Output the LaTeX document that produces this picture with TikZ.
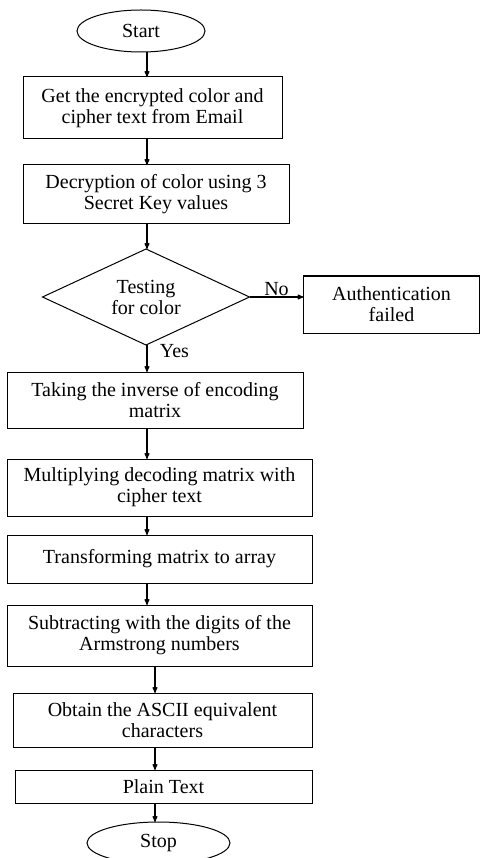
\documentclass[tikz,border=0pt]{standalone}
\usepackage{fontspec}
\setmainfont{Liberation Serif}
\usepackage{tikz}
\usetikzlibrary{shapes.geometric, positioning, arrows}
\tikzset{node distance=25pt, % gap between two boxes, changed per box below
every node/.style={ % Text as in the scanned figure
font=\fontsize{20}{21}\selectfont},
box/.style={ % Sets the properties for each process step
draw, rectangle, line width=1pt, align=center, inner sep=2pt, outer sep=0pt},
terminal/.style={ % Start and stop
draw, ellipse, line width=1pt, inner sep=0pt, outer sep=0pt},
decision/.style={ % Test box
draw, diamond, line width=1pt, align=center, inner sep=0pt, outer sep=0pt, shape aspect=2.15},
every edge/.style={ % Sets the properties for each connector
draw,->,>=stealth', % Directed connectors with filled heads
line width=1.1pt}}

\begin{document}
\begin{tikzpicture}[x=1pt, y=1pt]
    \useasboundingbox (0,0) rectangle (481,-858);
    
    \coordinate (axis) at (147,0);
    \coordinate (axisb) at (155,0);
    
    \node[terminal, minimum width=128pt, minimum height=42pt] (start) at (141,-31) {Start};
    \node[box, below=25pt of start, xshift=11.5pt, minimum width=259pt, minimum height=62pt] (get) {Get the encrypted color and\\cipher text from Email};
    \node[box, below=26pt of get, xshift=3.5pt, minimum width=266pt, minimum height=59pt] (decr) {Decryption of color using 3\\Secret Key values};
    \node[decision, below=25pt of decr, xshift=-10pt, minimum width=207pt, minimum height=96pt] (test) {Testing\\for color};
    \node[box, right=54pt of test, yshift=-7.5pt, minimum width=176pt, minimum height=57pt] (auth) {Authentication\\failed};
    \node[box, below=27pt of test, xshift=9pt, minimum width=296pt, minimum height=56pt] (inv) {Taking the inverse of encoding\\matrix};
    \node[box, below=31pt of inv, xshift=4.5pt, minimum width=305pt, minimum height=57pt] (mult) {Multiplying decoding matrix with\\cipher text};
    \node[box, below=19pt of mult, minimum width=305pt, minimum height=48pt] (trans) {Transforming matrix to array};
    \node[box, below=22pt of trans, minimum width=305pt, minimum height=61pt] (sub) {Subtracting with the digits of the\\Armstrong numbers};
    \node[box, below=27pt of sub, xshift=3pt, minimum width=299pt, minimum height=54pt] (ascii) {Obtain the ASCII equivalent\\characters};
    \node[box, below=23pt of ascii, xshift=1pt, minimum width=297pt, minimum height=33pt] (plain) {Plain Text};
    \node[terminal, below=19pt of plain, xshift=-5pt, minimum width=143pt, minimum height=42pt] (stop) {Stop};
    
    \draw (start.south -| axis) edge (get.north -| axis);
    \draw (get.south -| axis) edge (decr.north -| axis);
    \draw (decr.south -| axis) edge (test.north -| axis);
    \draw (test.east) edge node[above, inner sep=1pt] {No} (test.east -| auth.west);
    \draw (test.south -| axis) edge node[right=9pt, pos=0.22] {Yes} (inv.north -| axis);
    \draw (inv.south -| axis) edge (mult.north -| axis);
    \draw (mult.south -| axis) edge (trans.north -| axis);
    \draw (trans.south -| axis) edge (sub.north -| axis);
    \draw (sub.south -| axisb) edge (ascii.north -| axisb);
    \draw (ascii.south -| axisb) edge (plain.north -| axisb);
    \draw (plain.south -| axisb) edge (stop.north -| axisb);
    
\end{tikzpicture}
\end{document}
